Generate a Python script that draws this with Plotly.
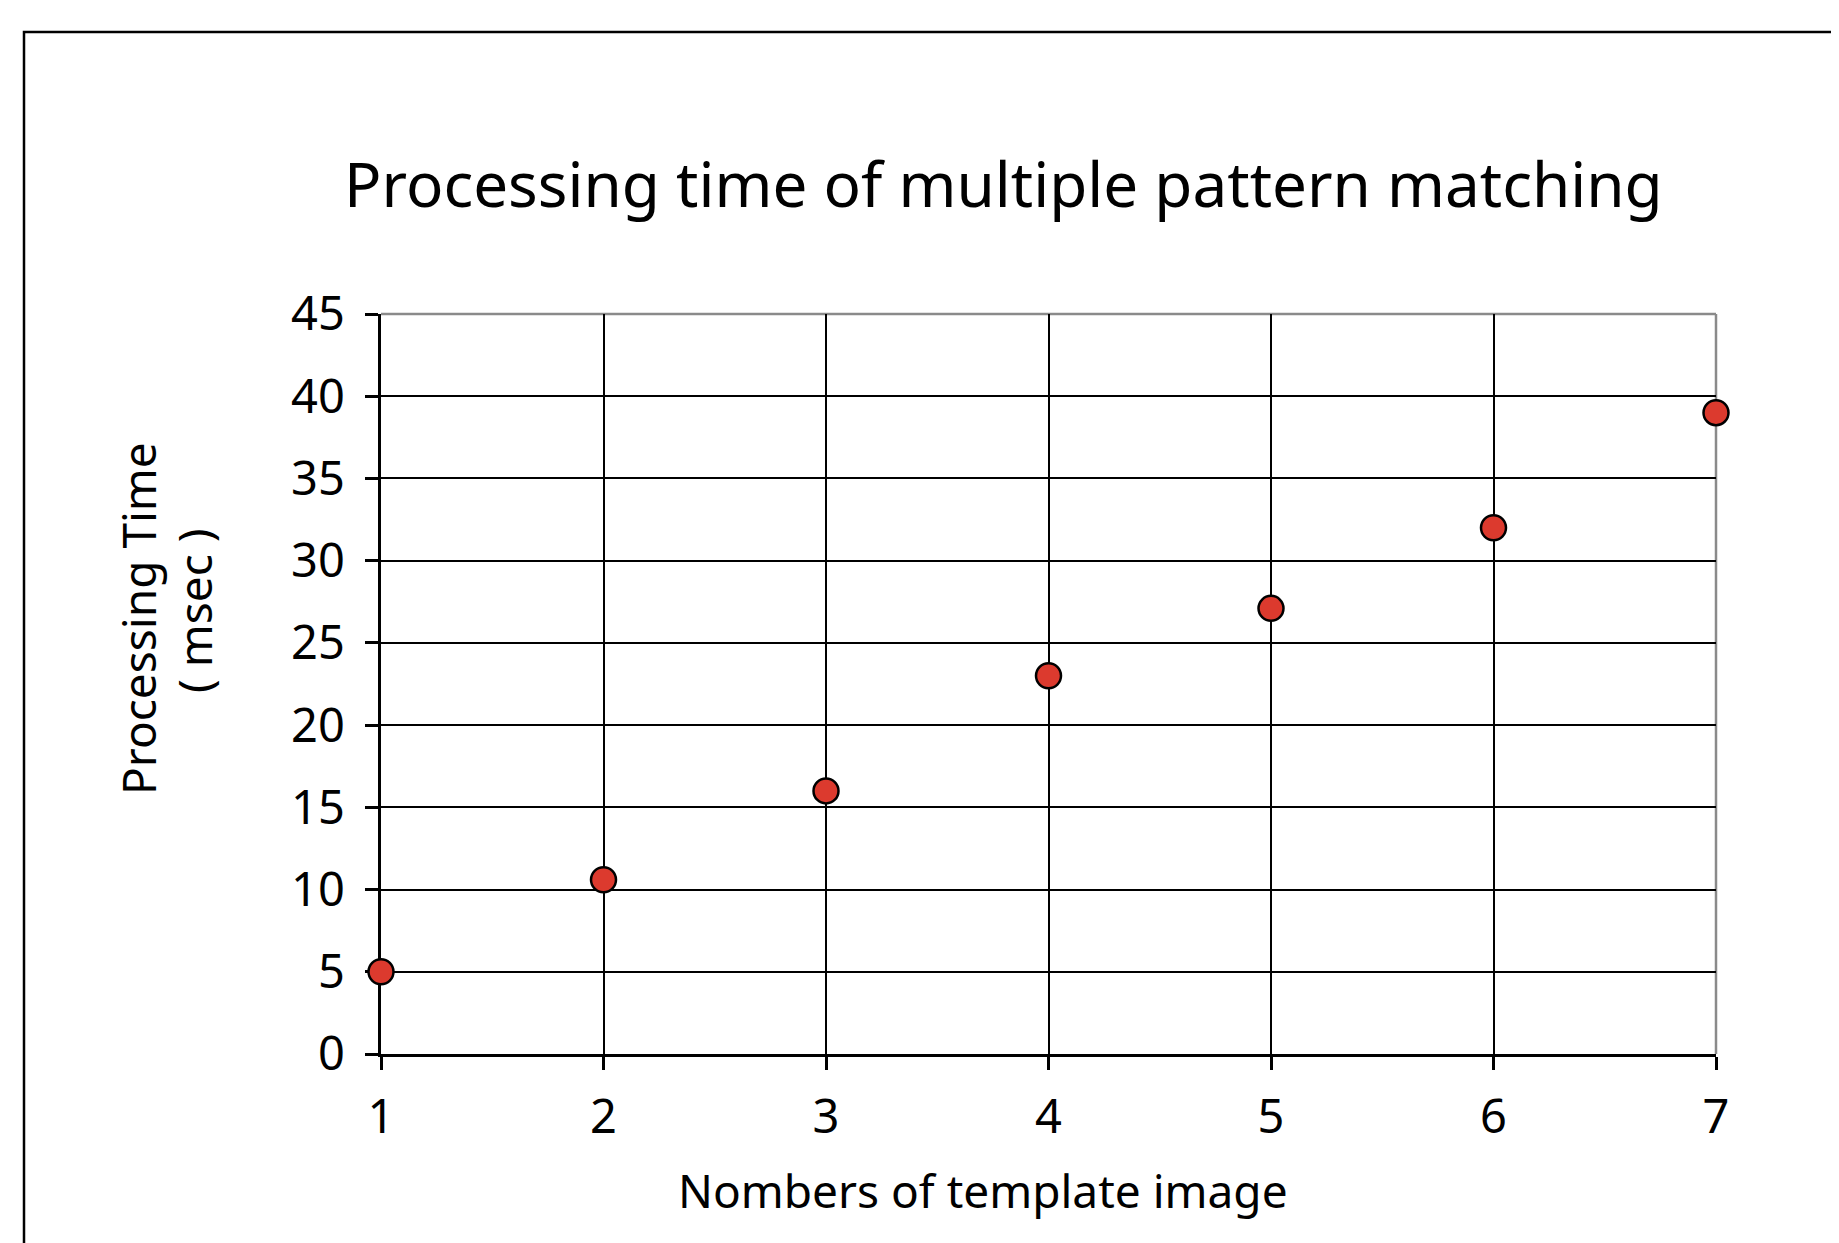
import plotly.graph_objects as go

# Data
template_counts = [1, 2, 3, 4, 5, 6, 7]
processing_ms = [5.0, 10.6, 16.0, 23.0, 27.1, 32.0, 39.0]
y_ticks = [0, 5, 10, 15, 20, 25, 30, 35, 40, 45]
x_ticks = [1, 2, 3, 4, 5, 6, 7]

title_text = "Processing time of multiple pattern matching"
x_title = "Nombers of template image"
y_title_line1 = "Processing Time"
y_title_line2 = "( msec )"

FONT = "Noto Sans, sans-serif"

W, H = 1839, 1243
OFF = 8  # page body margin
L, R, T, B = 381 - OFF, 123 + OFF, 314 - OFF, 189 + OFF
pw, ph = W - L - R, H - T - B

def px_x(x):
    return (x - OFF - L) / pw

def px_y(y):
    return (H - B - (y - OFF)) / ph

fig = go.Figure()
fig.add_trace(go.Scatter(
    x=template_counts, y=processing_ms, mode="markers",
    marker=dict(size=25, color="#DC3A2E", line=dict(color="black", width=2.5)),
    showlegend=False, cliponaxis=False, hoverinfo="x+y",
))

axis_common = dict(
    showgrid=True, gridcolor="black", gridwidth=2.3,
    showline=True, linecolor="black", linewidth=2.5,
    ticks="outside", ticklen=13, tickwidth=2.5, tickcolor="black",
    zeroline=False, layer="below traces",
    tickfont=dict(family=FONT, size=47, color="black"),
)

fig.update_layout(
    width=W, height=H,
    margin=dict(l=L, r=R, t=T, b=B, autoexpand=False),
    paper_bgcolor="white", plot_bgcolor="white",
    xaxis=dict(range=[1, 7], tickvals=x_ticks, ticklabelstandoff=7, **axis_common),
    yaxis=dict(range=[0, 45], tickvals=y_ticks, ticklabelstandoff=11, **axis_common),
    font=dict(family=FONT, color="black"),
)

# Title and axis titles
fig.add_annotation(text=title_text, xref="paper", yref="paper",
                   x=px_x(1003), y=px_y(183), xanchor="center", yanchor="middle",
                   showarrow=False, font=dict(family=FONT, size=62, color="black"))
fig.add_annotation(text=x_title, xref="paper", yref="paper",
                   x=px_x(983), y=px_y(1190), xanchor="center", yanchor="middle",
                   showarrow=False, font=dict(family=FONT, size=46, color="black"))
fig.add_annotation(text=y_title_line1, xref="paper", yref="paper",
                   x=px_x(138), y=px_y(619), xanchor="center", yanchor="middle",
                   textangle=-90, showarrow=False,
                   font=dict(family=FONT, size=46, color="black"))
fig.add_annotation(text=y_title_line2, xref="paper", yref="paper",
                   x=px_x(194), y=px_y(611), xanchor="center", yanchor="middle",
                   textangle=-90, showarrow=False,
                   font=dict(family=FONT, size=46, color="black"))

# Grey frame on top and right of plot area
fig.add_shape(type="line", xref="paper", yref="paper", x0=0, x1=1, y0=1, y1=1,
              line=dict(color="#8a8a8a", width=2.5), layer="between")
fig.add_shape(type="line", xref="paper", yref="paper", x0=1, x1=1, y0=0, y1=1,
              line=dict(color="#8a8a8a", width=2.5), layer="between")

# Outer page border (extends beyond right and bottom edges)
fig.add_shape(type="rect", xref="paper", yref="paper",
              x0=px_x(24), x1=px_x(W + 50), y0=px_y(H + 50), y1=px_y(32),
              line=dict(color="black", width=2.5), fillcolor="rgba(0,0,0,0)", layer="below")

fig.write_html("out.html")
